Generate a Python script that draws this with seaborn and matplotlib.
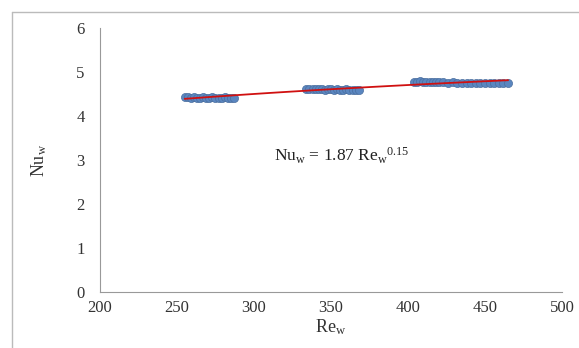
import numpy as np
import pandas as pd
import seaborn as sns
import matplotlib.pyplot as plt
from matplotlib.lines import Line2D

sns.set_theme(style="white")
plt.rcParams['font.family'] = ['Liberation Serif', 'DejaVu Serif']
plt.rcParams['mathtext.default'] = 'regular'

# Data
re_w = [255, 257, 259, 261, 263, 265, 267, 269, 271, 273, 275, 277, 279, 281, 283, 285, 287,
        334, 336, 338, 340, 342, 344, 346, 348, 350, 352, 354, 356, 358, 360, 362, 364, 366, 368,
        404, 406, 408, 410, 412, 414, 416, 418, 420, 423, 426, 429, 432, 435, 438, 441, 444,
        447, 450, 453, 456, 459, 462, 465]
nu_w = [4.43, 4.43, 4.42, 4.43, 4.42, 4.42, 4.43, 4.42, 4.42, 4.43, 4.42, 4.42, 4.42, 4.43, 4.42, 4.42, 4.42,
        4.61, 4.62, 4.61, 4.61, 4.62, 4.61, 4.60, 4.61, 4.61, 4.60, 4.61, 4.60, 4.60, 4.61, 4.60, 4.60, 4.60, 4.60,
        4.78, 4.78, 4.79, 4.78, 4.77, 4.78, 4.78, 4.77, 4.77, 4.77, 4.76, 4.77, 4.76, 4.76, 4.76, 4.76, 4.76,
        4.76, 4.76, 4.76, 4.76, 4.76, 4.76, 4.75]
x_ticks = [200, 250, 300, 350, 400, 450, 500]
y_ticks = [0, 1, 2, 3, 4, 5, 6]
equation = r"Nu$_{w}$ = 1.87 Re$_{w}$$^{0.15}$"

df = pd.DataFrame({"Re": re_w, "Nu": nu_w})

fig = plt.figure(figsize=(5.79, 3.48), dpi=100)
ax = fig.add_axes([100/579, 1-292/348, 462/579, 264/348])

sns.scatterplot(data=df, x="Re", y="Nu", ax=ax, s=34, color="#5A86C0",
                edgecolor="#4A6E9E", linewidth=0.5, legend=False, zorder=2)

# power-law trend line fitted to the data
b, loga = np.polyfit(np.log(df["Re"]), np.log(df["Nu"]), 1)
xs = np.linspace(min(re_w), max(re_w), 100)
ax.plot(xs, np.exp(loga) * xs**b, color="#D01010", lw=1.3, zorder=3)

ax.set_xlim(200, 500)
ax.set_ylim(0, 6)
ax.set_xticks(x_ticks)
ax.set_yticks(y_ticks)
ax.tick_params(axis='both', direction='out', length=3, width=0.8, color="#999999",
               labelsize=12, labelcolor="#333333", pad=3)
ax.tick_params(axis='y', pad=8)
for s in ["top", "right"]:
    ax.spines[s].set_visible(False)
for s in ["left", "bottom"]:
    ax.spines[s].set_color("#999999")
    ax.spines[s].set_linewidth(0.8)

ax.set_xlabel(r"Re$_{w}$", fontsize=13, color="#333333", labelpad=1)
ax.set_ylabel(r"Nu$_{w}$", fontsize=13, color="#333333", labelpad=20)
ax.text(357, 3.1, equation, fontsize=12.5, color="#222222", ha="center", va="center")

# outer chart frame
fig.add_artist(Line2D([12/579, 12/579], [0, 1-12/348], color="#BBBBBB", lw=1,
                      transform=fig.transFigure))
fig.add_artist(Line2D([12/579, 1], [1-12/348, 1-12/348], color="#BBBBBB", lw=1,
                      transform=fig.transFigure))

fig.savefig("out.png", dpi=100)
